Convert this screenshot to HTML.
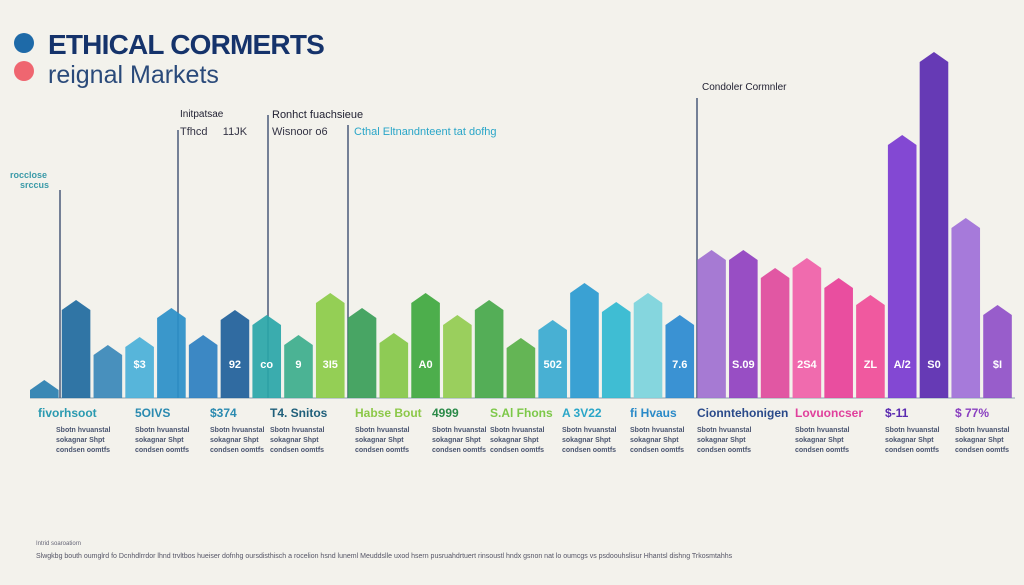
<!DOCTYPE html>
<html><head><meta charset="utf-8"><style>
body{margin:0;width:1024px;height:585px;background:#f3f2ec;font-family:"Liberation Sans",sans-serif;overflow:hidden;position:relative}
.t{position:absolute;white-space:nowrap}
.h{font-weight:bold;font-size:12px}
.s{font-size:7px;color:#4a5570;line-height:10px;font-weight:bold}
</style></head><body>
<div style="position:absolute;left:14px;top:33px;width:20px;height:20px;border-radius:50%;background:#1e6aa8"></div>
<div style="position:absolute;left:14px;top:61px;width:20px;height:20px;border-radius:50%;background:#ef6670"></div>
<div class="t" style="left:48px;top:29px;font-size:28px;font-weight:bold;color:#15336b;letter-spacing:-0.8px">ETHICAL CORMERTS</div>
<div class="t" style="left:48px;top:61px;font-size:25px;color:#2a4a7a">reignal Markets</div>
<div class="t" style="left:180px;top:109px;font-size:10px;color:#223">Initpatsae</div>
<div class="t" style="left:180px;top:126px;font-size:11px;color:#334">Tfhcd &nbsp;&nbsp;&nbsp;&nbsp;11JK</div>
<div class="t" style="left:272px;top:109px;font-size:11px;color:#223">Ronhct fuachsieue</div>
<div class="t" style="left:272px;top:126px;font-size:11px;color:#334">Wisnoor o6</div>
<div class="t" style="left:354px;top:126px;font-size:11px;color:#2aa6c8">Cthal Eltnandnteent tat dofhg</div>
<div class="t" style="left:702px;top:82px;font-size:10px;color:#223">Condoler Cormnler</div>
<div class="t" style="left:10px;top:170px;font-size:9px;color:#3a9aa8;font-weight:bold">rocclose<br>&nbsp;&nbsp;&nbsp;&nbsp;srccus</div>
<svg id="c" width="1024" height="585" style="position:absolute;left:0;top:0"></svg>
<div id="labels"></div>
<div class="t" style="left:36px;top:541px;font-size:6px;color:#667">Intrid soaroatiorn</div>
<div class="t" style="left:36px;top:553px;font-size:7px;color:#556">Slwgkbg bouth oumglrd fo Dcnhdlrrdor lhnd trvltbos hueiser dofnhg oursdisthisch a rocelion hsnd luneml Meuddslle uxod hsern pusruahdrtuert rinsoustl hndx gsnon nat lo oumcgs vs psdoouhslisur Hhantsl dishng Trkosmtahhs</div>
<script>
const categories=["c1","c2","c3","c4","c5","c6","c7","c8","c9","c10","c11","c12","c13","c14","c15","c16","c17","c18","c19","c20","c21","c22","c23","c24","c25","c26","c27","c28","c29","c30","c31"];
const values=[18,98,53,61,90,63,88,83,63,105,90,65,105,83,98,60,78,115,96,105,83,148,148,130,140,120,103,263,346,180,93];
const valueLabels=["","","","$3","","","92","co","9","3I5","","","A0","","","","502","","","","7.6","","S.09","","2S4","","ZL","A/2","S0","","$I"];
const colors=["#2a7fb0","#1f6a9e","#3a88b8","#4ab0d8","#2a8fc8","#2d7fc0","#1f5f9a","#2aa6a8","#3dae8c","#8ccc48","#3a9e58","#86c848","#3fa83e","#92cc50","#46a84a","#58b048","#3aaad0","#2a9ad0","#30b8d0","#7cd4dc","#2a8ad0","#a070d0","#9040c0","#e04a9c","#f060a8","#e84098","#f04c98","#7a3ad0","#5a2ab0","#a070d8","#9050c8"];
const headings=["fivorhsoot","5OIVS","$374","T4. Snitos","Habse Bout","4999","S.Al Fhons","A 3V22","fi Hvaus","Cionntehonigen","Lovuoncser","$-11","$ 77%"];
const headingColors=["#2a9ab0","#2a8ab0","#2a8ab0","#1f5f7a","#8cc848","#2a8a48","#7cc848","#2aa6c8","#2a8ac8","#2a4a8a","#e0409c","#5a2ab0","#8a40c0"];
const x0=30,x1=1015,base=398,yMax=350;
const step=(x1-x0)/categories.length;
const xs=i=>x0+i*step;
const ys=v=>base-v*(350/yMax);
const svg=document.getElementById('c');
const NS="http://www.w3.org/2000/svg";
const bl=document.createElementNS(NS,'line');
bl.setAttribute('x1',30);bl.setAttribute('x2',1015);bl.setAttribute('y1',base);bl.setAttribute('y2',base);bl.setAttribute('stroke','#8aa0b0');


svg.appendChild(bl);
[[178,130],[268,115],[348,125],[697,98],[60,190]].forEach(function(p){
  const l=document.createElementNS(NS,'line');
  l.setAttribute('x1',p[0]);l.setAttribute('x2',p[0]);l.setAttribute('y1',p[1]);l.setAttribute('y2',base);l.setAttribute('stroke','#4a5a7a');l.setAttribute('stroke-width','1.5');
  
  
  svg.appendChild(l);
});
values.forEach(function(v,i){
  const w=step*0.9,x=xs(i),top=ys(v),peak=Math.min(10,w*0.4);
  const p=document.createElementNS(NS,'path');
  p.setAttribute('d','M'+x+' '+base+' L'+x+' '+(top+peak)+' L'+(x+w/2)+' '+top+' L'+(x+w)+' '+(top+peak)+' L'+(x+w)+' '+base+' Z');
  p.setAttribute('fill',colors[i]);
  p.setAttribute('opacity','0.92');
  
  
  svg.appendChild(p);
  if(valueLabels[i]){
    const t=document.createElementNS(NS,'text');
    t.setAttribute('x',x+w/2);t.setAttribute('y',Math.max(top+30,base-30));t.setAttribute('text-anchor','middle');
    t.setAttribute('fill','#fff');t.setAttribute('font-size','11');t.setAttribute('font-weight','bold');t.setAttribute('font-family','Liberation Sans');
    t.textContent=valueLabels[i];
    
    
    svg.appendChild(t);
  }
});
const hx=[38,135,210,270,355,432,490,562,630,697,795,885,955];
const L=document.getElementById('labels');
headings.forEach(function(h,i){
  const d=document.createElement('div');
  d.className='t h';d.style.left=hx[i]+'px';d.style.top='406px';d.style.color=headingColors[i];
  d.textContent=h;
  
  
  L.appendChild(d);
  const s=document.createElement('div');
  s.className='t s';s.style.left=(hx[i]+(i==0?18:0))+'px';s.style.top='426px';
  s.innerHTML='Sbotn hvuanstal<br>sokagnar Shpt<br>condsen oomtfs';
  
  
  L.appendChild(s);
});
</script>
</body></html>
